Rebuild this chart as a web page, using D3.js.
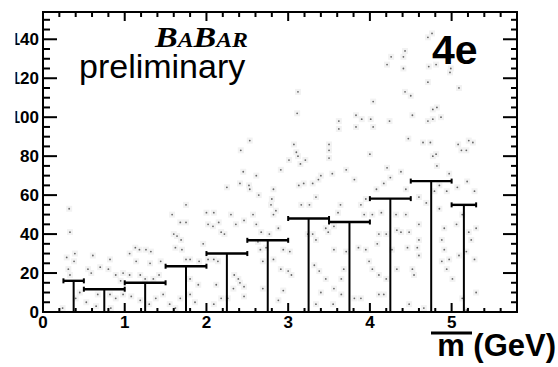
<!DOCTYPE html>
<html>
<head>
<meta charset="utf-8">
<script src="https://cdn.jsdelivr.net/npm/d3@7"></script>
<style>
  html, body { margin: 0; padding: 0; background: #fff; }
  svg { display: block; }
</style>
</head>
<body>
<svg id="chart" width="558" height="367"></svg>
<script>
// Bin edges (GeV) and upper-limit counts per bin
const binLow  = [0.25, 0.5, 1.0, 1.5, 2.0, 2.5, 3.0, 3.5, 4.0, 4.5, 5.0];
const binHigh = [0.5, 1.0, 1.5, 2.0, 2.5, 3.0, 3.5, 4.0, 4.5, 5.0, 5.3];
const limits  = [16, 11.7, 15, 23.5, 30, 36.8, 48, 46.2, 58.2, 67.2, 55];

// Axis tick values
const xTickLabels = [0, 1, 2, 3, 4, 5];
const yTickLabels = [0, 20, 40, 60, 80, 100, 120, 140];

// Background candidate events: [mass (GeV), count scale]
const events = [
  [3.12,113],[3.11,102],[3.62,98],[3.62,94],[3.83,101],[3.83,95],[2.53,88],[2.42,83],[3.07,86],[3.10,82],
  [3.12,80],[3.50,86],[3.50,83],[3.50,79],[3.21,78],[3.01,78],
  [4.71,141],[4.26,131],[4.21,127],[4.41,131],[4.41,125],[4.72,126],[4.81,127],[4.99,125],[4.98,123],[4.71,118],
  [5.09,115],[4.43,113],[4.50,111],[4.04,108],[3.90,99],[4.01,99],[4.04,95],[4.24,98],[4.52,101],[4.82,105],
  [4.77,104],[4.71,98],[4.77,99],[4.87,100],[4.47,89],[4.65,87],[4.74,87],[5.08,86],[5.12,83],[5.21,88],
  [5.26,87],[5.18,83],[4.00,81],[4.77,80],[4.81,81],[4.43,134],[4.76,143],
  [0.32,53],[0.33,41],[0.61,29],[0.29,28],[0.39,30],[0.38,26],[0.82,27],[1.06,30],[1.13,33],[1.18,32],
  [1.26,32],[1.32,31],[1.14,26],[1.31,25],[1.44,26],[1.58,50],[1.75,55],[1.68,46],[1.75,46],[1.60,40],
  [1.64,39],[1.69,37],[1.62,33],[1.70,32],[1.75,27],[1.80,27],[1.91,26],[0.55,22],[0.59,20],[0.70,23],
  [0.80,22],[0.89,19],[0.98,20],[0.95,16],[1.06,19],[1.19,19],[1.25,17],[1.35,17],[1.42,19],[0.31,22],
  [0.33,19],[0.45,10],[0.40,7],[0.53,5],[0.67,9],[0.82,9],[0.89,7],[0.98,9],[1.08,8],[1.19,6],
  [1.38,7],[1.47,9],[1.55,4],[1.68,7],[1.80,9],[1.86,5],[0.24,2],[0.65,3],[0.83,2],[1.30,4],
  [1.62,2],[1.80,17],[1.90,14],
  [2.45,72],[2.61,70],[2.25,64],[2.41,66],[2.52,65],[2.53,63],[2.64,60],[2.82,63],[2.80,58],[2.79,55],
  [2.85,52],[2.82,50],[2.91,73],[3.15,76],[3.13,65],[3.19,66],[3.30,66],[3.37,68],[3.40,70],[3.54,71],
  [3.34,59],[3.16,55],[3.26,55],[3.64,55],[3.61,51],[3.71,73],[3.81,68],[2.00,51],[2.09,51],[2.02,45],
  [2.08,44],[2.15,46],[2.30,50],[2.36,45],[2.22,40],[2.18,41],[2.46,47],[2.57,50],[2.61,45],[2.67,41],
  [2.77,40],[2.88,43],[2.63,36],[2.73,33],[2.69,26],[2.66,32],[2.82,27],[2.94,32],[3.02,31],[2.91,22],
  [3.00,21],[3.04,19],[1.96,35],[2.02,27],[2.09,27],[2.14,26],[2.34,19],[2.39,17],[2.41,15],[2.33,12],
  [2.12,14],[2.46,13],[2.18,7],[2.26,7],[2.46,8],[2.09,4],[2.69,12],[2.94,11],[2.88,6],[3.24,40],
  [3.34,37],[3.46,43],[3.49,41],[3.56,44],[3.56,32],[3.71,31],[3.86,33],[3.32,24],[3.38,21],[3.46,17],
  [3.56,12],[3.65,17],[3.68,22],[3.40,10],[3.65,9],[3.34,4],[3.55,4],[3.81,7],[3.30,40],
  [4.21,74],[4.38,72],[4.25,69],[4.17,66],[4.08,63],[4.44,63],[4.60,59],[4.69,56],[4.79,62],[4.85,65],
  [4.94,62],[4.82,75],[4.97,71],[5.07,64],[5.19,67],[5.28,62],[3.95,58],[3.93,50],[4.03,50],[4.14,51],
  [3.89,55],[4.32,50],[4.44,50],[4.60,45],[4.85,53],[4.91,43],[5.06,45],[5.13,50],[5.21,41],[5.30,43],
  [5.24,37],[4.11,40],[4.20,40],[4.33,42],[4.38,41],[4.48,41],[4.60,37],[3.95,32],[4.09,35],[4.27,32],
  [4.46,33],[4.58,33],[4.60,29],[4.88,37],[4.91,32],[4.97,27],[5.09,29],[5.28,27],[5.18,31],[3.99,26],
  [4.03,22],[4.20,17],[4.11,19],[4.33,22],[4.52,22],[4.54,19],[4.94,22],[5.01,17],[4.88,26],[5.30,10],
  [4.11,9],[4.17,9],[3.89,7],[5.13,7],[4.48,4],[4.66,2],[5.18,1]
];

const svg = d3.select("#chart");
const frame = { left: 43, right: 517, top: 12, bottom: 312 };

const x = d3.scaleLinear().domain([0, 5.8]).range([frame.left, frame.right]);
const y = d3.scaleLinear().domain([0, 154]).range([frame.bottom, frame.top]);

// The figure's left margin is trimmed, cutting into the widest y labels
svg.append("defs").append("clipPath").attr("id", "trim")
  .append("rect").attr("x", 15.5).attr("y", 0).attr("width", 543).attr("height", 367);

// Scattered events
const dots = svg.append("g");
dots.selectAll("rect.halo").data(events).join("rect")
  .attr("class", "halo")
  .attr("x", d => x(d[0]) - 3).attr("y", d => y(d[1]) - 3)
  .attr("width", 6).attr("height", 6)
  .attr("fill", "#f2f2f2");
dots.selectAll("circle").data(events).join("circle")
  .attr("cx", d => x(d[0])).attr("cy", d => y(d[1]))
  .attr("r", 0.9)
  .attr("fill", "#666");

// Upper-limit markers: cap across the bin, stem down to zero
const bins = binLow.map((lo, i) => ({ lo, hi: binHigh[i], v: limits[i] }));
const marks = svg.append("g").attr("stroke", "#000").attr("stroke-width", 2);
bins.forEach(b => {
  const mid = (b.lo + b.hi) / 2;
  marks.append("line")
    .attr("x1", x(b.lo)).attr("x2", x(b.hi))
    .attr("y1", y(b.v)).attr("y2", y(b.v))
    .attr("stroke-width", 2.4);
  marks.append("line")
    .attr("x1", x(b.lo)).attr("x2", x(b.lo))
    .attr("y1", y(b.v) - 2.5).attr("y2", y(b.v) + 2.5);
  marks.append("line")
    .attr("x1", x(b.hi)).attr("x2", x(b.hi))
    .attr("y1", y(b.v) - 2.5).attr("y2", y(b.v) + 2.5);
  marks.append("line")
    .attr("x1", x(mid)).attr("x2", x(mid))
    .attr("y1", y(b.v)).attr("y2", y(0));
});

// Ticks on all four sides, pointing inward
const ticks = svg.append("g").attr("stroke", "#000").attr("stroke-width", 2);
const xMinor = d3.range(0, 5.81, 0.2);
xMinor.forEach(t => {
  const major = Math.abs(t - Math.round(t)) < 1e-6;
  ticks.append("line").attr("x1", x(t)).attr("x2", x(t))
    .attr("y1", frame.bottom).attr("y2", frame.bottom - (major ? 9 : 4));
  ticks.append("line").attr("x1", x(t)).attr("x2", x(t))
    .attr("y1", frame.top).attr("y2", frame.top + (major ? 9 : 5));
});
const yMinor = d3.range(0, 154, 5);
yMinor.forEach(t => {
  const major = t % 20 === 0;
  ticks.append("line").attr("x1", frame.left).attr("x2", frame.left + (major ? 14 : 7))
    .attr("y1", y(t)).attr("y2", y(t));
  ticks.append("line").attr("x1", frame.right).attr("x2", frame.right - (major ? 14 : 6))
    .attr("y1", y(t)).attr("y2", y(t));
});

// Frame
svg.append("rect")
  .attr("x", frame.left).attr("y", frame.top)
  .attr("width", frame.right - frame.left).attr("height", frame.bottom - frame.top)
  .attr("fill", "none").attr("stroke", "#000").attr("stroke-width", 2);

// Tick labels
const labelFont = "'Liberation Sans', Arial, Helvetica, sans-serif";
svg.append("g").attr("clip-path", "url(#trim)")
  .selectAll("text").data(yTickLabels).join("text")
  .attr("x", 39).attr("y", d => y(d)).attr("dy", "0.36em")
  .attr("text-anchor", "end")
  .attr("font-family", labelFont).attr("font-weight", "bold").attr("font-size", 17)
  .text(d => d);
svg.append("g").selectAll("text").data(xTickLabels).join("text")
  .attr("x", d => x(d)).attr("y", 328)
  .attr("text-anchor", "middle")
  .attr("font-family", labelFont).attr("font-weight", "bold").attr("font-size", 17)
  .text(d => d);

// Axis title with bar over m
svg.append("text")
  .attr("x", 556).attr("y", 356)
  .attr("text-anchor", "end")
  .attr("font-family", labelFont).attr("font-weight", "bold").attr("font-size", 31)
  .text("m (GeV)");
svg.append("line")
  .attr("x1", 431).attr("x2", 472).attr("y1", 333).attr("y2", 333)
  .attr("stroke", "#000").attr("stroke-width", 3);

// Experiment logo and status
const logo = svg.append("text")
  .attr("x", 155).attr("y", 47)
  .attr("textLength", 93).attr("lengthAdjust", "spacingAndGlyphs")
  .attr("font-family", "'Liberation Serif', 'Times New Roman', serif")
  .attr("font-weight", "bold").attr("font-style", "italic");
logo.append("tspan").attr("font-size", 30).text("B");
logo.append("tspan").attr("font-size", 21).text("A");
logo.append("tspan").attr("font-size", 30).text("B");
logo.append("tspan").attr("font-size", 21).text("AR");

svg.append("text")
  .attr("x", 79).attr("y", 78)
  .attr("font-family", labelFont).attr("font-size", 34)
  .text("preliminary");

svg.append("text")
  .attr("x", 432).attr("y", 64)
  .attr("font-family", labelFont).attr("font-weight", "bold").attr("font-size", 41)
  .text("4e");
</script>
</body>
</html>
